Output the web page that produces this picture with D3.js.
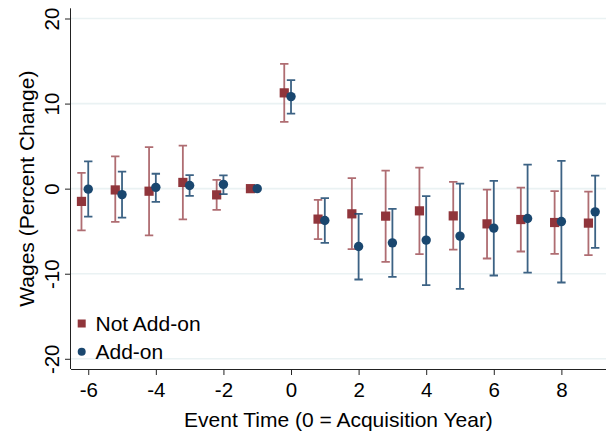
<!DOCTYPE html>
<html>
<head>
<meta charset="utf-8">
<script src="https://cdn.jsdelivr.net/npm/d3@7"></script>
<style>
  body { margin: 0; background: #fff; }
  svg { display: block; font-family: "Liberation Sans", Arial, sans-serif; }
</style>
</head>
<body>
<svg id="chart" width="609" height="433"></svg>
<script>
// ---- Data ----
const eventTime = [-6, -5, -4, -3, -2, -1, 0, 1, 2, 3, 4, 5, 6, 7, 8, 9];

const notAddOn   = [-1.5, -0.15, -0.3, 0.73, -0.73, 0, 11.26, -3.58, -2.96, -3.23, -2.61, -3.2, -4.14, -3.63, -3.98, -4.05];
const notAddOnLo = [-4.9, -3.9, -5.5, -3.6, -2.5, 0, 7.85, -5.93, -7.11, -8.6, -7.7, -7.16, -8.21, -7.39, -7.66, -7.81];
const notAddOnHi = [1.86, 3.8, 4.88, 5.06, 1.04, 0, 14.66, -1.32, 1.23, 2.13, 2.48, 0.8, -0.11, 0.13, -0.29, -0.34];

const addOn   = [-0.06, -0.7, 0.15, 0.37, 0.5, 0, 10.82, -3.75, -6.8, -6.37, -6.05, -5.58, -4.64, -3.51, -3.87, -2.73];
const addOnLo = [-3.3, -3.4, -1.55, -0.85, -0.65, 0, 8.82, -6.37, -10.68, -10.36, -11.34, -11.77, -10.21, -9.86, -11.03, -6.96];
const addOnHi = [3.2, 2.0, 1.75, 1.6, 1.55, 0, 12.76, -1.12, -2.96, -2.37, -0.88, 0.6, 0.92, 2.83, 3.27, 1.54];

const xTicks = [-6, -4, -2, 0, 2, 4, 6, 8];
const yTicks = [-20, -10, 0, 10, 20];

const seriesNames = ["Not Add-on", "Add-on"];

// ---- Layout ----
const svg = d3.select("#chart");
const plotL = 71, plotR = 606, plotT = 8.3, plotB = 369;

const x = d3.scaleLinear().domain([-6.51, 9.32]).range([plotL, plotR]);
const y = d3.scaleLinear().domain([-21.2, 21.2]).range([plotB, plotT]);

const red = "#90353b", blue = "#1a476f";

const series = [
    {name: seriesNames[0], est: notAddOn, lo: notAddOnLo, hi: notAddOnHi, color: red, shift: -0.2, shape: "square", ciOpacity: 0.72},
    {name: seriesNames[1], est: addOn, lo: addOnLo, hi: addOnHi, color: blue, shift: 0, shape: "circle", ciOpacity: 0.85}
];

// plain hyphen for negatives, like the original
const fmt = d => String(d);

// gridlines
svg.append("g")
    .selectAll("line")
    .data(yTicks)
    .join("line")
    .attr("x1", plotL).attr("x2", plotR)
    .attr("y1", d => y(d)).attr("y2", d => y(d))
    .attr("stroke", "#eaf2f3")
    .attr("stroke-width", 1.6);

// axes
const xAxis = svg.append("g")
    .attr("transform", `translate(0,${plotB})`)
    .call(d3.axisBottom(x).tickValues(xTicks).tickSize(6).tickPadding(4).tickFormat(fmt));
xAxis.select(".domain").attr("d", `M${plotL},0.5H${plotR}`).attr("stroke", "#222");
xAxis.selectAll(".tick line").attr("stroke", "#222");
xAxis.selectAll(".tick text")
    .attr("font-size", 20.5)
    .attr("fill", "#000")
    .attr("font-family", "Liberation Sans, Arial, sans-serif")
    .attr("dy", "0.9em");

const yAxis = svg.append("g")
    .attr("transform", `translate(${plotL},0)`)
    .call(d3.axisLeft(y).tickValues(yTicks).tickSize(6).tickFormat(fmt));
yAxis.select(".domain").attr("d", `M-0.5,${plotT}V${plotB}`).attr("stroke", "#222");
yAxis.selectAll(".tick line").attr("stroke", "#222");
yAxis.selectAll(".tick text")
    .attr("font-size", 20.5)
    .attr("fill", "#000")
    .attr("font-family", "Liberation Sans, Arial, sans-serif")
    .attr("x", null).attr("dy", null)
    .attr("text-anchor", "middle")
    .attr("transform", "translate(-12.5,0) rotate(-90)");

// axis titles
svg.append("text")
    .attr("x", (plotL + plotR) / 2)
    .attr("y", 426.5)
    .attr("text-anchor", "middle")
    .attr("font-size", 21)
    .text("Event Time (0 = Acquisition Year)");

svg.append("text")
    .attr("transform", `translate(33.5,${(plotT + plotB) / 2}) rotate(-90)`)
    .attr("text-anchor", "middle")
    .attr("font-size", 21)
    .text("Wages (Percent Change)");

// ---- Coefficients with confidence intervals ----
const cap = 4.2;
series.forEach(s => {
    const g = svg.append("g");
    const rows = eventTime.map((t, i) => ({t: t + s.shift, est: s.est[i], lo: s.lo[i], hi: s.hi[i]}))
        .filter(d => d.hi !== d.lo);

    g.append("g")
        .attr("stroke", s.color)
        .attr("stroke-opacity", s.ciOpacity)
        .attr("stroke-width", 1.8)
        .selectAll("path")
        .data(rows)
        .join("path")
        .attr("fill", "none")
        .attr("d", d => {
            const cx = x(d.t), y0 = y(d.lo), y1 = y(d.hi);
            return `M${cx},${y0}V${y1}M${cx - cap},${y1}H${cx + cap}M${cx - cap},${y0}H${cx + cap}`;
        });

    const pts = eventTime.map((t, i) => ({t: t + s.shift, est: s.est[i]}));
    if (s.shape === "square") {
        g.append("g").selectAll("rect")
            .data(pts)
            .join("rect")
            .attr("x", d => x(d.t) - 4.6)
            .attr("y", d => y(d.est) - 4.6)
            .attr("width", 9.2).attr("height", 9.2)
            .attr("fill", s.color);
    } else {
        g.append("g").selectAll("circle")
            .data(pts)
            .join("circle")
            .attr("cx", d => x(d.t))
            .attr("cy", d => y(d.est))
            .attr("r", 4.7)
            .attr("fill", s.color);
    }
});

// ---- Legend ----
const legend = svg.append("g");
const legendY = [323.5, 351.7];
series.forEach((s, i) => {
    const ly = legendY[i];
    if (s.shape === "square")
        legend.append("rect").attr("x", 77.7).attr("y", ly - 4).attr("width", 8).attr("height", 8).attr("fill", s.color);
    else
        legend.append("circle").attr("cx", 81.7).attr("cy", ly).attr("r", 4).attr("fill", s.color);
    legend.append("text")
        .attr("x", 95.5)
        .attr("y", ly + 7.5)
        .attr("font-size", 21)
        .text(s.name);
});
</script>
</body>
</html>
